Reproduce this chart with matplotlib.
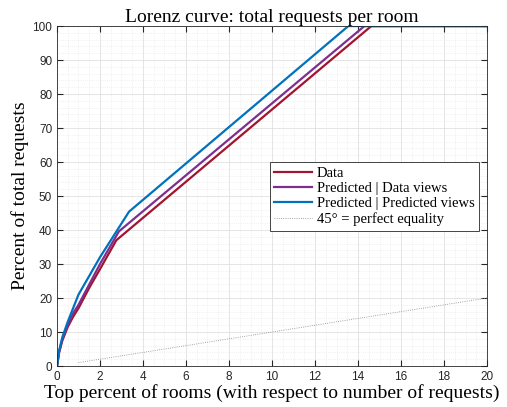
import numpy as np
import matplotlib.pyplot as plt
from matplotlib.ticker import MultipleLocator

# Lorenz curve values
data_x = [0, 0.1, 0.25, 0.5, 0.75, 1, 1.5, 2, 2.76, 14.62, 20]
data_y = [0, 4, 7.5, 11.5, 14.5, 17, 23, 28.5, 37, 100, 100]

pred_data_x = [0, 0.1, 0.25, 0.5, 0.75, 1, 1.5, 2, 2.88, 14.3, 20]
pred_data_y = [0, 4.2, 8, 12, 15.5, 18, 24, 30, 39.6, 100, 100]

pred_pred_x = [0, 0.1, 0.25, 0.5, 0.75, 1, 1.5, 2, 3.35, 13.55, 20]
pred_pred_y = [0, 4.5, 8.5, 13, 17, 21, 26.5, 32, 45.4, 100, 100]

equal_x = [1, 20]
equal_y = [1, 20]

labels = ['Data', 'Predicted | Data views', 'Predicted | Predicted views', '45° = perfect equality']

serif = ['Liberation Serif', 'DejaVu Serif']
sans = ['Liberation Sans', 'DejaVu Sans']

fig = plt.figure(figsize=(5.07, 4.07), dpi=100)
ax = fig.add_axes([0.1124, 0.1007, 0.8482, 0.8353])

ax.plot(data_x, data_y, color='#A2142F', lw=1.6, label=labels[0])
ax.plot(pred_data_x, pred_data_y, color='#7E2F8E', lw=1.6, label=labels[1])
ax.plot(pred_pred_x, pred_pred_y, color='#0072BD', lw=1.6, label=labels[2])
ax.plot(equal_x, equal_y, color='#888888', lw=0.6, ls=':', label=labels[3])

ax.set_xlim(0, 20)
ax.set_ylim(0, 100)
ax.xaxis.set_major_locator(MultipleLocator(2))
ax.xaxis.set_minor_locator(MultipleLocator(0.5))
ax.yaxis.set_major_locator(MultipleLocator(10))
ax.yaxis.set_minor_locator(MultipleLocator(2))

ax.grid(which='major', color='#e0e0e0', lw=0.6)
ax.grid(which='minor', color='#e6e6e6', lw=0.5, ls=':')
ax.set_axisbelow(True)

ax.tick_params(which='both', direction='in', top=True, right=True, colors='#262626', labelsize=8.5)
ax.tick_params(which='major', length=4)
ax.tick_params(which='minor', length=0)
for lab in ax.get_xticklabels() + ax.get_yticklabels():
    lab.set_family(sans)
for sp in ax.spines.values():
    sp.set_color('#262626')
    sp.set_linewidth(0.6)

ax.set_title('Lorenz curve: total requests per room', family=serif, fontsize=14, pad=3)
ax.set_xlabel('Top percent of rooms (with respect to number of requests)', family=serif, fontsize=14, labelpad=1)
ax.set_ylabel('Percent of total requests', family=serif, fontsize=14, labelpad=2)

leg = ax.legend(loc='upper right', bbox_to_anchor=(0.981, 0.6), borderaxespad=0,
                prop={'family': serif, 'size': 10.5}, fancybox=False, framealpha=1,
                handlelength=2.6, handletextpad=0.3, labelspacing=0.15, borderpad=0.3)
leg.get_frame().set_edgecolor('#262626')
leg.get_frame().set_linewidth(0.6)

fig.savefig('out.png', dpi=100)
